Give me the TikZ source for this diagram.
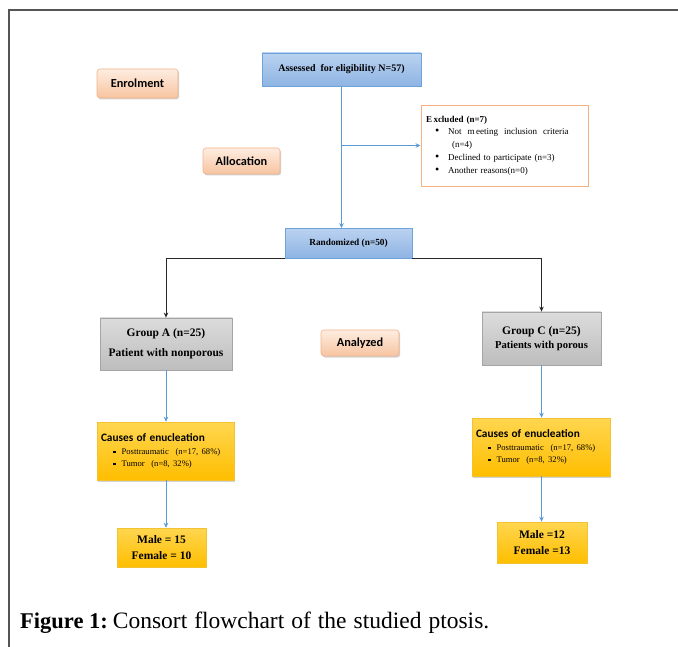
\documentclass[tikz,border=0pt]{standalone}
\usepackage{fontspec}
\setmainfont{Liberation Serif}
\newfontfamily\calib{Carlito}
\usetikzlibrary{shadows,arrows.meta}
\definecolor{blueTop}{HTML}{BAD2F0}
\definecolor{blueBot}{HTML}{8EB4E3}
\definecolor{blueBd}{HTML}{6EA2DA}
\definecolor{lineBlue}{HTML}{5B9BD5}
\definecolor{grayTop}{HTML}{DCDCDC}
\definecolor{grayBot}{HTML}{BDBDBD}
\definecolor{grayBd}{HTML}{A5A5A5}
\definecolor{yelTop}{HTML}{FFD650}
\definecolor{yelBot}{HTML}{FFBE00}
\definecolor{yelBd}{HTML}{F2C230}
\definecolor{peachTop}{HTML}{FEEDE1}
\definecolor{peachBot}{HTML}{F7C4A0}
\definecolor{peachBd}{HTML}{F3B38A}
\definecolor{exclBd}{HTML}{F7B07F}
\definecolor{frameC}{HTML}{555555}
\tikzset{
  box/.style={draw, inner sep=2pt, align=center},
  bluebox/.style={box, draw=blueBd, top color=blueTop, bottom color=blueBot, line width=0.8pt},
  graybox/.style={box, draw=grayBd, top color=grayTop, bottom color=grayBot, line width=0.8pt},
  yelbox/.style={box, draw=yelBd, top color=yelTop, bottom color=yelBot, line width=0.6pt},
  peachbox/.style={box, draw=peachBd, top color=peachTop, bottom color=peachBot, line width=0.6pt, rounded corners=3pt,
     drop shadow={shadow xshift=1.2pt, shadow yshift=-1.5pt, opacity=.35}},
  shbox/.style={drop shadow={shadow xshift=1pt, shadow yshift=-1.5pt, opacity=.35}},
  bluearrow/.style={draw=lineBlue, line width=0.9pt, -{Stealth[length=5pt,width=4.5pt]}},
  blackarrow/.style={draw=black!85, line width=0.9pt, -{Stealth[length=5pt,width=4.5pt]}},
  labfont/.style={font=\calib\bfseries\fontsize{12.3}{14}\selectfont},
}
\begin{document}
\begin{tikzpicture}[x=1pt,y=-1pt]
\useasboundingbox (0,0) rectangle (678,647);
\fill[white] (0,0) rectangle (678,647);
% frame
\draw[frameC, line width=1.2pt] (9,647) -- (9,10) -- (678,10);

% nodes
\node[bluebox, minimum width=159pt, minimum height=33pt, font=\bfseries\fontsize{10}{12}\selectfont]
  (assess) at (341.5,69.5) {Assessed\ \ for eligibility N=57)};
\node[peachbox, labfont, minimum width=81pt, minimum height=29pt] (enrol) at (137.5,83.5) {Enrolment};
\node[peachbox, labfont, minimum width=77pt, minimum height=26pt] (alloc) at (241.5,161) {Allocation};
\node[draw=exclBd, fill=white, line width=0.9pt, minimum width=167pt, minimum height=81pt, inner sep=4pt,
  text width=157pt, align=left, font=\fontsize{9}{12.7}\selectfont] (excl) at (504.5,145.5)
  {\textbf{E\,xcluded (n=7)}\\
   \hspace*{9pt}{\large\textbullet}\hspace{9pt}Not\ \ m\,eeting\ \ inclusion\ \ criteria\\
   \hspace*{26pt}(n=4)\\
   \hspace*{9pt}{\large\textbullet}\hspace{9pt}Declined to participate (n=3)\\
   \hspace*{9pt}{\large\textbullet}\hspace{9pt}Another reasons(n=0)};
\node[bluebox, minimum width=127pt, minimum height=30pt, font=\bfseries\fontsize{9.3}{11}\selectfont]
  (rand) at (348.5,243.5) {Randomized (n=50)};
\node[graybox, minimum width=132pt, minimum height=52pt, font=\bfseries\fontsize{11.5}{20}\selectfont]
  (grpA) at (166,344) {Group A (n=25)\\ Patient with nonporous};
\node[peachbox, labfont, minimum width=78pt, minimum height=26pt] (analyz) at (360,343) {Analyzed};
\node[graybox, minimum width=119pt, minimum height=53pt]
  (grpC) at (541.5,338.5) {{\bfseries\fontsize{11.5}{18}\selectfont Group C (n=25)}\\[2pt]
  {\bfseries\fontsize{10.6}{12}\selectfont Patients with porous}};
\node[yelbox, shbox, minimum width=137pt, minimum height=58pt, text width=129pt, align=left]
  (causeA) at (165.5,451) {{\calib\bfseries\fontsize{11.3}{12}\selectfont Causes of enucleation}\\[1pt]
  {\fontsize{8.6}{12.5}\selectfont\hspace*{12pt}\rule[1.5pt]{2.6pt}{2.6pt}\hspace{6pt}Posttraumatic\ \ (n=17, 68\%)\\
   \hspace*{12pt}\rule[1.5pt]{2.6pt}{2.6pt}\hspace{6pt}Tumor\ \ (n=8, 32\%)}};
\node[yelbox, shbox, minimum width=138pt, minimum height=58pt, text width=130pt, align=left]
  (causeC) at (541,447) {{\calib\bfseries\fontsize{11.3}{12}\selectfont Causes of enucleation}\\[1pt]
  {\fontsize{8.6}{12.5}\selectfont\hspace*{12pt}\rule[1.5pt]{2.6pt}{2.6pt}\hspace{6pt}Posttraumatic\ \ (n=17, 68\%)\\
   \hspace*{12pt}\rule[1.5pt]{2.6pt}{2.6pt}\hspace{6pt}Tumor\ \ (n=8, 32\%)}};
\node[yelbox, minimum width=89pt, minimum height=39pt, font=\bfseries\fontsize{11.5}{15.5}\selectfont]
  (maleA) at (161.5,547.5) {Male = 15\\ Female = 10};
\node[yelbox, minimum width=90pt, minimum height=41pt, font=\bfseries\fontsize{11.5}{15.5}\selectfont]
  (maleC) at (542,542.5) {Male =12\\ Female =13};

% connectors
\draw[bluearrow] (assess.south) -- (assess.south |- rand.north);
\draw[bluearrow] (assess.south |- excl.west) -- (excl.west);
\draw[blackarrow] (rand.south west) -| (grpA.north);
\draw[blackarrow] (rand.south east) -| (grpC.north);
\draw[bluearrow, line width=0.7pt] (grpA.south) -- (grpA.south |- causeA.north);
\draw[bluearrow, line width=0.7pt] (causeA.south -| grpA.south) -- (grpA.south |- maleA.north);
\draw[bluearrow, line width=0.7pt] (grpC.south) -- (grpC.south |- causeC.north);
\draw[bluearrow, line width=0.7pt] (causeC.south -| grpC.south) -- (grpC.south |- maleC.north);

% caption
\node[anchor=base west, inner sep=0pt] (cap) at (20,628)
  {{\fontsize{22.5}{26}\selectfont\textbf{Figure 1:}}\hspace{5pt}{\fontsize{23.5}{26}\selectfont\spaceskip=7pt plus 1pt Consort flowchart of the studied ptosis.}};
\end{tikzpicture}
\end{document}
